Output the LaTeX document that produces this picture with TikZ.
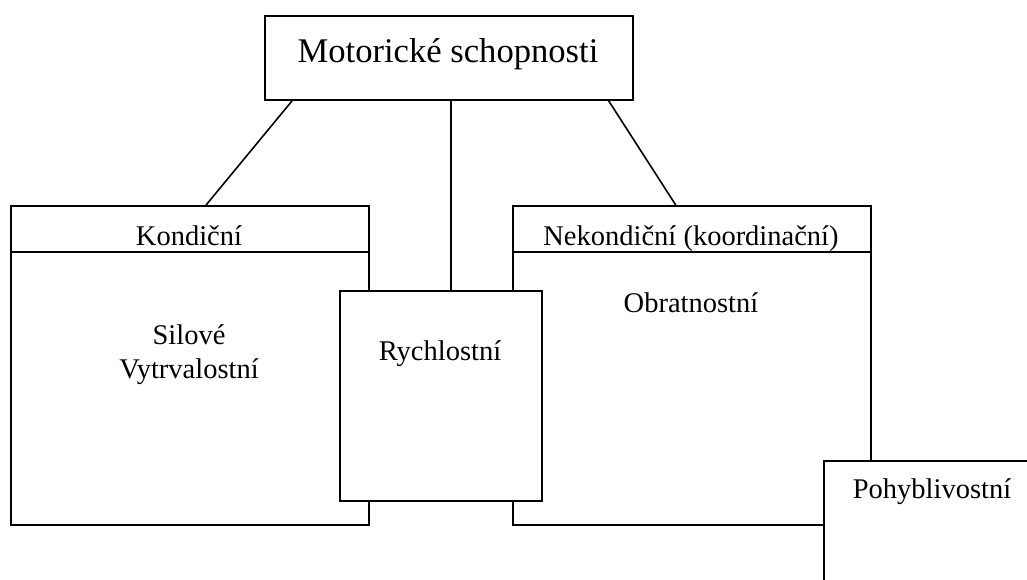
\documentclass[tikz,border=0pt]{standalone}
\usepackage{fontspec}
\setmainfont{Liberation Serif}
\usetikzlibrary{calc}
\begin{document}
\begin{tikzpicture}[x=1pt,y=-1pt,
  box/.style={draw, line width=1.8pt, inner sep=0pt, anchor=north west, fill=white},
  hline/.style={line width=1.6pt},
  lbl/.style={font=\fontsize{28.5}{34}\selectfont, inner sep=0pt, anchor=base},
  conn/.style={line width=1.6pt}]
\useasboundingbox (0,0) rectangle (1027,579);
\clip (0,0) rectangle (1027,579);
% left and right category boxes
\node[box, minimum width=358pt, minimum height=319pt] (kond) at (10,205) {};
\draw[hline] ($(kond.north west)+(0,47)$) -- ($(kond.north east)+(0,47)$);
\node[box, minimum width=358pt, minimum height=319pt] (nekond) at (512,205) {};
\draw[hline] ($(nekond.north west)+(0,47)$) -- ($(nekond.north east)+(0,47)$);
% overlapping boxes
\node[box, minimum width=202pt, minimum height=210pt] (rych) at (339,290) {};
\node[box, minimum width=250pt, minimum height=160pt] (pohyb) at (823,460) {};
% top box
\node[box, minimum width=368pt, minimum height=84pt] (top) at (264,15) {};
% labels
\node[lbl, font=\fontsize{34.6}{40}\selectfont] (tt) at (448,62) {Motorické schopnosti};
\node[lbl] (kt) at (189,245) {Kondiční};
\node[lbl] (nt) at (691,245) {Nekondiční (koordinační)};
\node[lbl] (s1) at (189,344) {Silové};
\node[lbl] (s2) at (189,378) {Vytrvalostní};
\node[lbl] (rt) at (440,360) {Rychlostní};
\node[lbl] (ot) at (691,312) {Obratnostní};
\node[lbl] (pt) at (932,498) {Pohyblivostní};
% connectors
\draw[conn] ($(top.south west)!0.076!(top.south east)$) -- ($(kond.north west)!0.545!(kond.north east)$);
\coordinate (m) at ($(top.south west)!0.505!(top.south east)$);
\draw[conn] (m) -- (m |- rych.north);
\draw[conn] ($(top.south west)!0.932!(top.south east)$) -- ($(nekond.north west)!0.455!(nekond.north east)$);
\end{tikzpicture}
\end{document}
